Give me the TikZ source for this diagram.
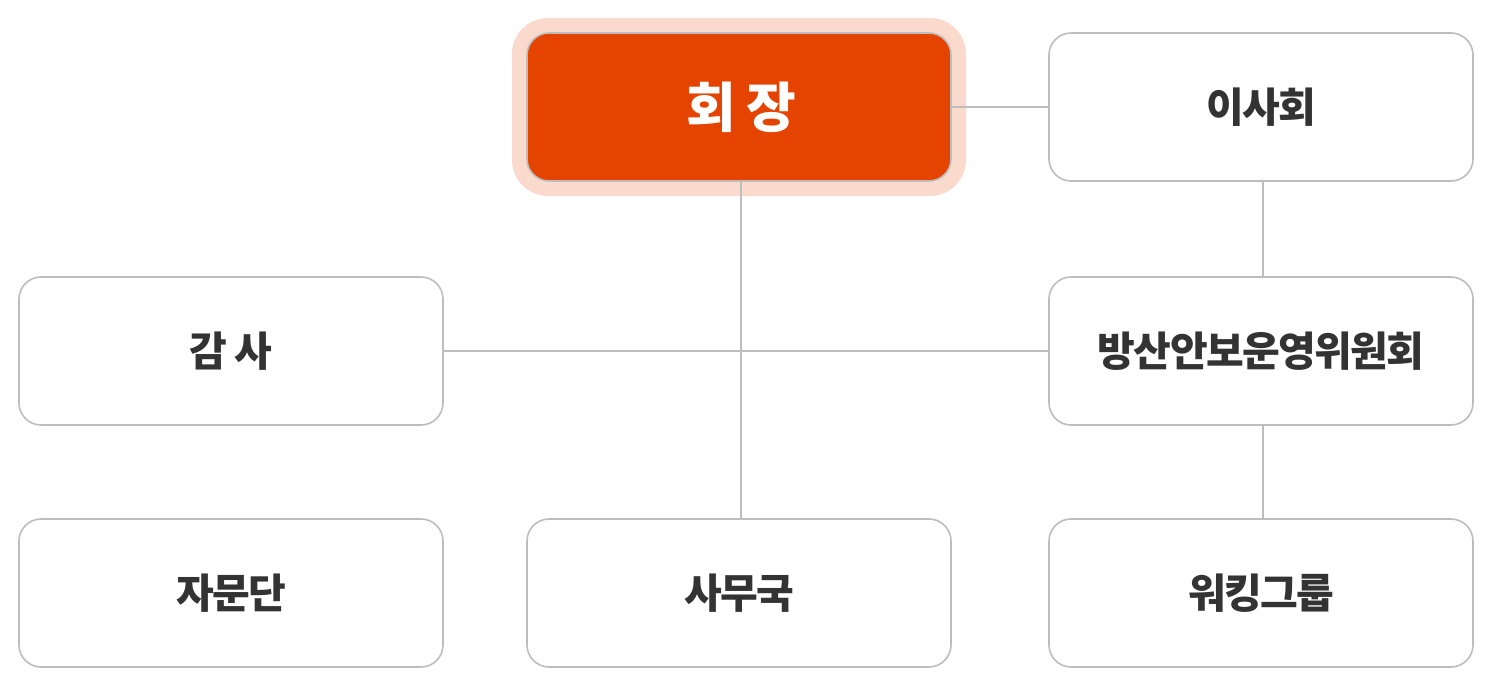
\documentclass[tikz,border=0pt]{standalone}
\usepackage{fontspec}
\newfontfamily\kr{Noto Sans CJK KR}[LetterSpace=-4]
\definecolor{boxline}{HTML}{BDBDBD}
\definecolor{txt}{HTML}{333333}
\definecolor{chief}{HTML}{E44400}
\definecolor{halo}{HTML}{FADACC}
\begin{document}
\begin{tikzpicture}[x=1pt,y=-1pt,
  orgbox/.style={draw=boxline, line width=1.6pt, fill=white, rounded corners=22pt,
    minimum width=424pt, minimum height=148pt, inner sep=0pt,
    font=\kr\bfseries\fontsize{41}{46}\selectfont, text=txt},
  link/.style={draw=boxline, line width=1.5pt}]
\useasboundingbox (0,0) rectangle (1490,686);
\fill[halo, rounded corners=36pt] (512,18) rectangle (966,196);
\node[orgbox, draw=none, fill=none] (c0) at (739,107) {};
\node[orgbox] (isa) at (1261,107) {이사회};
\node[orgbox] (gamsa) at (231,351) {감 사};
\node[orgbox] (bang) at (1261,351) {방산안보운영위원회};
\node[orgbox] (jamun) at (231,593) {자문단};
\node[orgbox] (samu) at (739,593) {사무국};
\node[orgbox] (work) at (1261,593) {워킹그룹};
\draw[link] (c0.east) -- (isa.west);
\draw[link] ([xshift=2pt]isa.south) -- ([xshift=2pt]bang.north);
\draw[link] ([xshift=2pt]bang.south) -- ([xshift=2pt]work.north);
\draw[link] (gamsa.east) -- (bang.west);
\draw[link] ([xshift=2pt]c0.south) -- ([xshift=2pt]samu.north);
\node[orgbox, fill=chief, text=white, font=\kr\bfseries\fontsize{54}{58}\selectfont] (chair) at (739,107) {\hspace*{4pt}회 장};
\end{tikzpicture}
\end{document}
